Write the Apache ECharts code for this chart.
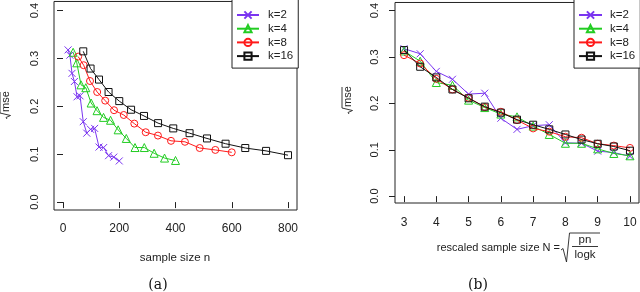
<!DOCTYPE html>
<html><head><meta charset="utf-8">
<script src="https://cdn.jsdelivr.net/npm/echarts@6/dist/echarts.min.js"></script>
<style>html,body{margin:0;padding:0;background:#fff}#c{width:640px;height:292px}</style>
</head><body><div id="c"></div>
<script>
// sample sizes n per k (panel a)
const n_k2  = [18, 24.5, 32, 40.5, 50, 60.5, 72, 84.5, 98, 112.5, 128, 144.5, 162, 180.5, 200];
const n_k4  = [36, 49, 64, 81, 100, 121, 144, 169, 196, 225, 256, 289, 324, 361, 400];
const n_k8  = [54, 73.5, 96, 121.5, 150, 181.5, 216, 253.5, 294, 337.5, 384, 433.5, 486, 541.5, 600];
const n_k16 = [72, 98, 128, 162, 200, 242, 288, 338, 392, 450, 512, 578, 648, 722, 800];
// rescaled sample size N (panel b)
const N_vals = [3, 3.5, 4, 4.5, 5, 5.5, 6, 6.5, 7, 7.5, 8, 8.5, 9, 9.5, 10];
// sqrt(mse)
const rmse_k2  = [0.318, 0.307, 0.269, 0.252, 0.220, 0.222, 0.168, 0.144, 0.152, 0.154, 0.115, 0.114, 0.097, 0.094, 0.086];
const rmse_k4  = [0.313, 0.291, 0.245, 0.239, 0.207, 0.191, 0.177, 0.171, 0.151, 0.133, 0.114, 0.114, 0.102, 0.092, 0.087];
const rmse_k8  = [0.304, 0.286, 0.253, 0.230, 0.212, 0.192, 0.182, 0.164, 0.146, 0.139, 0.128, 0.126, 0.113, 0.109, 0.104];
const rmse_k16 = [0.315, 0.279, 0.256, 0.230, 0.211, 0.193, 0.180, 0.165, 0.154, 0.144, 0.133, 0.122, 0.113, 0.107, 0.098];
const seriesNames = ['k=2', 'k=4', 'k=8', 'k=16'];
const xTicksA = [0, 200, 400, 600, 800];
const xTicksB = [3, 4, 5, 6, 7, 8, 9, 10];
const yTicks = [0.0, 0.1, 0.2, 0.3, 0.4];

const colors = ['#7a35f0', '#22cc22', '#ff1a1a', '#111111'];
const symbols = ['path://M0,0L10,10M10,0L0,10', 'triangle', 'circle', 'rect'];
const symSizes = [7, 8, 7, 7];
const nArr = [n_k2, n_k4, n_k8, n_k16];
const yArr = [rmse_k2, rmse_k4, rmse_k8, rmse_k16];

const FONT = 'Liberation Sans';
const TXT = '#222';

function mk(i, xs, g) {
  return {
    type: 'line', name: seriesNames[i], xAxisIndex: g, yAxisIndex: g,
    data: xs.map((x, j) => [x, yArr[i][j]]),
    symbol: symbols[i], symbolSize: symSizes[i], showAllSymbol: true,
    lineStyle: { color: colors[i], width: 1 },
    itemStyle: { color: 'rgba(255,255,255,0)', borderColor: colors[i], borderWidth: 1 },
    emphasis: { disabled: true }, animation: false, z: 2 + i
  };
}

function yAxisDef(g, min, max, margin) {
  return {
    type: 'value', gridIndex: g, min: min, max: max,
    axisLine: { show: false },
    axisTick: { show: true, inside: false, length: 6, customValues: yTicks, lineStyle: { color: '#222' } },
    axisLabel: { customValues: yTicks, rotate: 90, margin: margin, fontFamily: FONT, fontSize: 11, color: TXT,
      formatter: v => v.toFixed(1) },
    splitLine: { show: false }
  };
}
function xAxisDef(g, min, max, ticks, margin) {
  return {
    type: 'value', gridIndex: g, min: min, max: max,
    axisLine: { show: false },
    axisTick: { show: true, length: 6, customValues: ticks, lineStyle: { color: '#222' } },
    axisLabel: { customValues: ticks, margin: margin, fontFamily: FONT, fontSize: 12, color: TXT },
    splitLine: { show: false }
  };
}
function legendDef(left, top, itemW, txtPad) {
  return {
    orient: 'vertical', left: left, top: top, data: seriesNames,
    itemWidth: itemW, itemHeight: 9, itemGap: 1.7,
    padding: [10, 5, 6, 4],
    borderColor: '#222', borderWidth: 1, backgroundColor: '#fff',
    textStyle: { fontFamily: FONT, fontSize: 11.5, color: TXT, padding: [0, 0, 0, txtPad], lineHeight: 12 },
    selectedMode: false
  };
}

const option = {
  animation: false,
  grid: [
    { left: 54, top: -1, width: 243, height: 211, show: true, borderColor: '#222', borderWidth: 1, backgroundColor: 'transparent' },
    { left: 395, top: -1, width: 244, height: 204, show: true, borderColor: '#222', borderWidth: 1, backgroundColor: 'transparent' }
  ],
  xAxis: [ xAxisDef(0, -32, 832, xTicksA, 13), xAxisDef(1, 2.72, 10.28, xTicksB, 14) ],
  yAxis: [ yAxisDef(0, -0.0165, 0.4192, 14), yAxisDef(1, -0.0148, 0.4176, 15) ],
  legend: [ legendDef(232, -1, 22, 4), legendDef(574, -1, 23, 3) ],
  series: [0, 1, 2, 3].map(i => mk(i, nArr[i], 0)).concat([0, 1, 2, 3].map(i => mk(i, N_vals, 1))),
  graphic: [
    { type: 'text', x: 175, y: 258, style: { text: 'sample size n', font: '11.5px "Liberation Sans"', fill: TXT, align: 'center', verticalAlign: 'middle' } },
    { type: 'text', x: 158, y: 285, style: { text: '(a)', font: '14px "DejaVu Serif"', fill: '#111', align: 'center', verticalAlign: 'middle' } },
    { type: 'text', x: 478, y: 285, style: { text: '(b)', font: '14px "DejaVu Serif"', fill: '#111', align: 'center', verticalAlign: 'middle' } },
    // y titles
    { type: 'group', x: 6, y: 105, rotation: Math.PI / 2, children: [
      { type: 'text', x: -7, y: 0, style: { text: 'mse', font: '11px "Liberation Sans"', fill: TXT, align: 'left', verticalAlign: 'middle' } },
      { type: 'polyline', shape: { points: [[-14, 1], [-12.5, 0], [-10.5, 4.5], [-8, -6], [13, -6]] }, style: { stroke: TXT, lineWidth: 0.9, fill: null } }
    ]},
    { type: 'group', x: 348, y: 100, rotation: Math.PI / 2, children: [
      { type: 'text', x: -7, y: 0, style: { text: 'mse', font: '11px "Liberation Sans"', fill: TXT, align: 'left', verticalAlign: 'middle' } },
      { type: 'polyline', shape: { points: [[-14, 1], [-12.5, 0], [-10.5, 4.5], [-8, -6], [13, -6]] }, style: { stroke: TXT, lineWidth: 0.9, fill: null } }
    ]},
    // x title b
    { type: 'text', x: 560, y: 248, style: { text: 'rescaled sample size N =', font: '11px "Liberation Sans"', fill: TXT, align: 'right', verticalAlign: 'middle' } },
    { type: 'polyline', shape: { points: [[561, 250], [563, 248.5], [566.5, 262], [569.5, 233], [600, 233]] }, style: { stroke: TXT, lineWidth: 0.9, fill: null } },
    { type: 'line', shape: { x1: 572, y1: 246.5, x2: 598, y2: 246.5 }, style: { stroke: TXT, lineWidth: 0.9 } },
    { type: 'text', x: 585, y: 240, style: { text: 'pn', font: '11.5px "Liberation Sans"', fill: TXT, align: 'center', verticalAlign: 'middle' } },
    { type: 'text', x: 585, y: 255, style: { text: 'logk', font: '11.5px "Liberation Sans"', fill: TXT, align: 'center', verticalAlign: 'middle' } }
  ]
};
const chart = echarts.init(document.getElementById('c'), null, { renderer: 'canvas' });
chart.setOption(option);
</script></body></html>
